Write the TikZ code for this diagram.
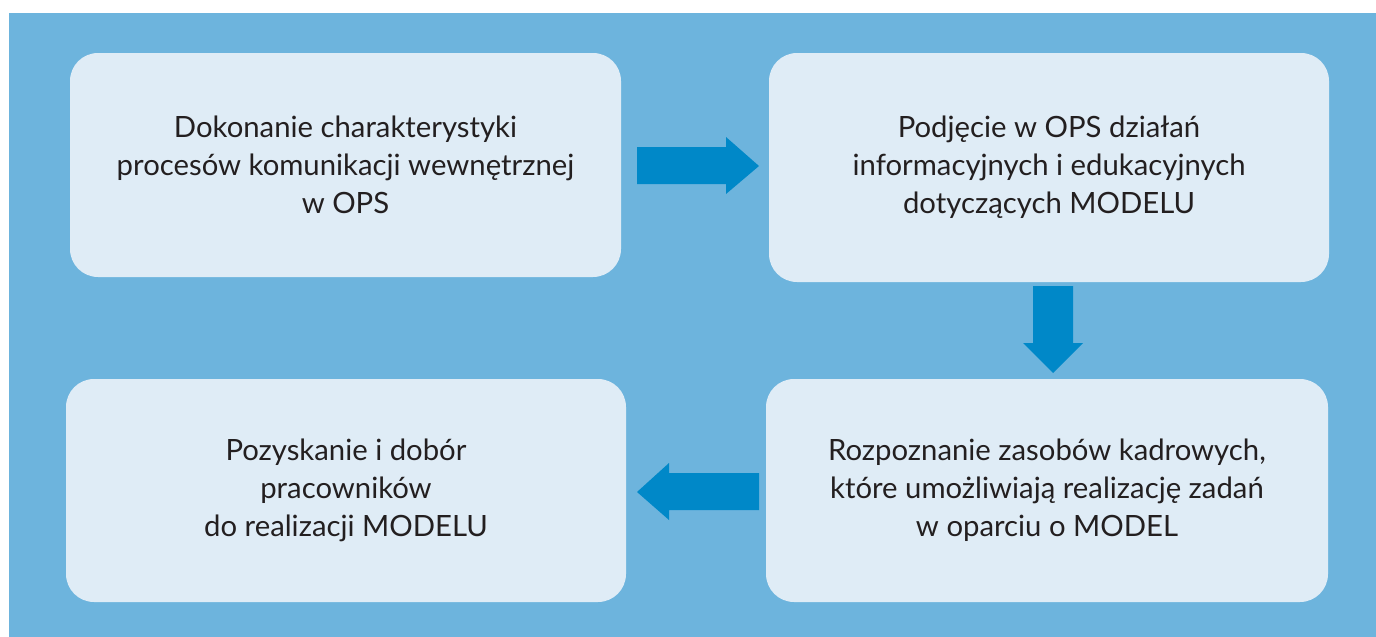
\documentclass[tikz,border=0pt]{standalone}
\usepackage{fontspec}
\setmainfont{Lato}
\definecolor{bgblue}{HTML}{6DB4DD}
\definecolor{boxfill}{HTML}{DFECF6}
\definecolor{arrowblue}{HTML}{0088C8}
\definecolor{txt}{HTML}{231F20}
\tikzset{
  stepbox/.style={rectangle, rounded corners=28pt, fill=boxfill, inner sep=0pt,
    outer sep=0pt, align=center, text=txt,
    font=\fontsize{29.3}{38}\selectfont},
  blockarrow/.style={fill=arrowblue, draw=none}
}
\begin{document}
\begin{tikzpicture}[x=1pt, y=-1pt]
  \useasboundingbox (0,0) rectangle (1376,637);
  % background panel
  \fill[bgblue] (9,13) rectangle (1376,637);

  % process steps
  \node[stepbox, minimum width=551pt, minimum height=224pt] (s1) at (345.5,165)
    {Dokonanie charakterystyki\\procesów komunikacji wewnętrznej\\w OPS};
  \node[stepbox, minimum width=560pt, minimum height=229pt] (s2) at (1049,167.5)
    {Podjęcie w OPS działań\\informacyjnych i edukacyjnych\\dotyczących MODELU};
  \node[stepbox, minimum width=562pt, minimum height=223pt] (s3) at (1047,490.5)
    {Rozpoznanie zasobów kadrowych,\\które umożliwiają realizację zadań\\w oparciu o MODEL};
  \node[stepbox, minimum width=560pt, minimum height=223pt] (s4) at (346,490.5)
    {Pozyskanie i dobór\\pracowników\\do realizacji MODELU};

  % block arrows between the steps
  \fill[blockarrow] (637,147) -- (726,147) -- (726,137) -- (759,166)
    -- (726,194) -- (726,184) -- (637,184) -- cycle;
  \fill[blockarrow] (1033,286) -- (1073,286) -- (1073,343) -- (1083,343)
    -- (1053,373) -- (1023,343) -- (1033,343) -- cycle;
  \fill[blockarrow] (759,473) -- (669,473) -- (669,463) -- (637,492)
    -- (669,520) -- (669,510) -- (759,510) -- cycle;
\end{tikzpicture}
\end{document}
